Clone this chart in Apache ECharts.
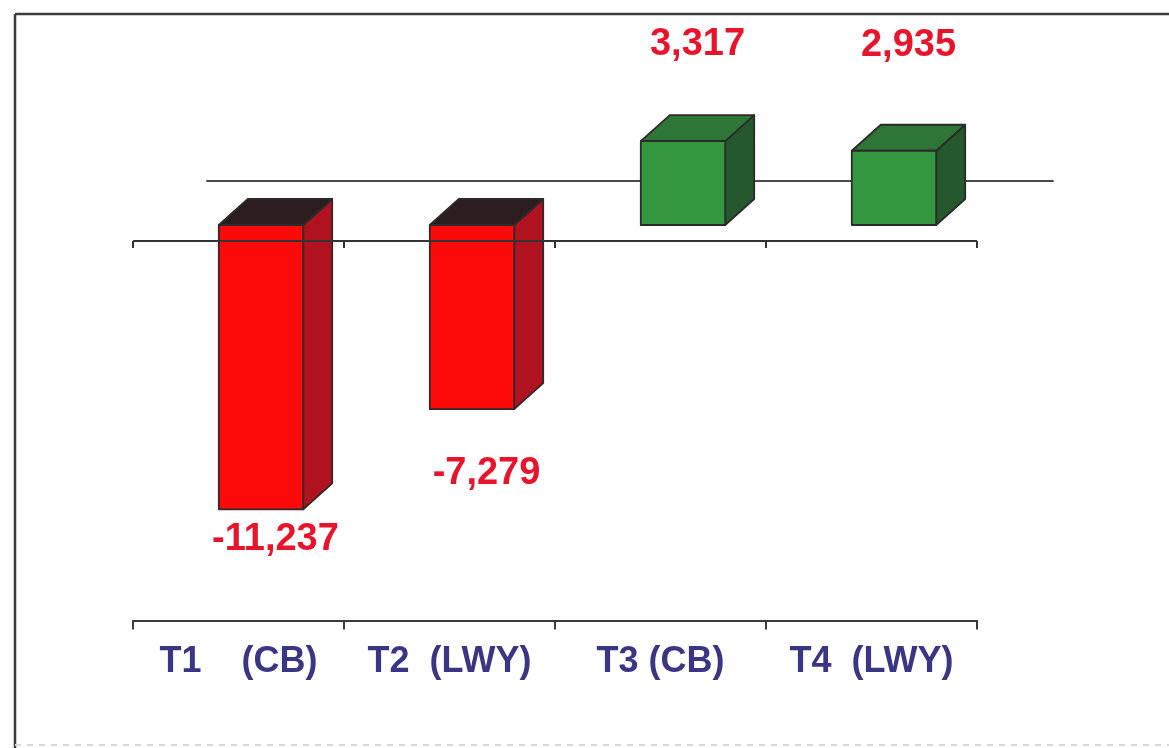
<!DOCTYPE html>
<html>
<head>
<meta charset="utf-8">
<style>
  html, body { margin: 0; padding: 0; background: #ffffff; }
  #chart { width: 1169px; height: 748px; }
</style>
<script src="https://cdn.jsdelivr.net/npm/echarts@6/dist/echarts.min.js"></script>
</head>
<body>
<div id="chart"></div>
<script>
// Net change per period
const categories = ['T1    (CB)', 'T2  (LWY)', 'T3 (CB)', 'T4  (LWY)'];
const values = [-11237, -7279, 3317, 2935];

// Value range shared by every depth plane
const Y_MIN = -15000;
const Y_MAX = 5000;

// Distance (px) of each value label beyond the end of its box
const labelGaps = [30, 64, 71, 79];

// Box depth projection
const DEPTH_X = 29;
const DEPTH_Y = 26;

const FONT = '"Liberation Sans", Arial, Helvetica, sans-serif';

const palette = {
  neg: { front: '#fc0a0a', top: '#2b1d1f', side: '#b0121f' },
  pos: { front: '#33973f', top: '#2d7637', side: '#25592d' }
};

const chart = echarts.init(document.getElementById('chart'), null, { renderer: 'canvas' });

const yAxisBase = { type: 'value', min: Y_MIN, max: Y_MAX, show: false };
const hiddenX = {
  type: 'category', data: categories, boundaryGap: true,
  axisLine: { show: false }, axisTick: { show: false }, axisLabel: { show: false },
  splitLine: { show: false }
};

const frame = [
  { type: 'line', z: 100, shape: { x1: 15, y1: 14, x2: 1169, y2: 14 }, style: { stroke: '#3c3c3c', lineWidth: 2.5 } },
  { type: 'line', z: 100, shape: { x1: 15, y1: 14, x2: 15, y2: 748 }, style: { stroke: '#3c3c3c', lineWidth: 2.5 } },
  { type: 'line', z: 100, shape: { x1: 15, y1: 745, x2: 1169, y2: 745 }, style: { stroke: '#d8d8d8', lineWidth: 2, lineDash: [6, 6] } }
];

const option = {
  animation: false,
  backgroundColor: '#ffffff',
  grid: [
    // back wall plane
    { left: 207, right: 116, top: 54.5, bottom: 187.5 },
    // box plane
    { left: 155.5, right: 169.5, top: 98.5, bottom: 143.5 },
    // front plane (zero line)
    { left: 133, right: 192, top: 114.5, bottom: 127.5 },
    // front plane (floor / category axis)
    { left: 133, right: 192, top: 114.5, bottom: 127.5 }
  ],
  xAxis: [
    Object.assign({}, hiddenX, {
      gridIndex: 0, z: 0,
      axisLine: { show: true, onZero: true, lineStyle: { color: '#4a4a4a', width: 2 } }
    }),
    Object.assign({}, hiddenX, { gridIndex: 1 }),
    Object.assign({}, hiddenX, {
      gridIndex: 2, z: 10,
      axisTick: { show: true, inside: false, length: 7, lineStyle: { color: '#333333', width: 2 } }
    }),
    Object.assign({}, hiddenX, {
      gridIndex: 3, position: 'bottom', z: 10,
      axisLine: { show: true, onZero: false, lineStyle: { color: '#3a3a3a', width: 2 } },
      axisTick: { show: true, inside: false, length: 9, lineStyle: { color: '#3a3a3a', width: 2 } },
      axisLabel: {
        show: true, interval: 0, margin: 24,
        color: '#3b3683', fontFamily: FONT, fontWeight: 'bold', fontSize: 36
      }
    })
  ],
  yAxis: [
    Object.assign({ gridIndex: 0 }, yAxisBase),
    Object.assign({ gridIndex: 1 }, yAxisBase),
    Object.assign({ gridIndex: 2 }, yAxisBase),
    Object.assign({ gridIndex: 3 }, yAxisBase)
  ],
  graphic: frame,
  series: [
    {
      // 3D boxes with value labels
      type: 'custom',
      xAxisIndex: 1,
      yAxisIndex: 1,
      z: 5,
      data: values.map((v, i) => [i, v]),
      renderItem: function (params, api) {
        const i = api.value(0);
        const v = api.value(1);
        const base = api.coord([i, 0]);
        const end = api.coord([i, v]);
        const w = api.size([1, 0])[0] * 0.4;
        const x0 = base[0] - w / 2;
        const x1 = base[0] + w / 2;
        const yTop = Math.min(base[1], end[1]);
        const yBot = Math.max(base[1], end[1]);
        const c = v < 0 ? palette.neg : palette.pos;
        const edge = { stroke: '#2c2a2a', lineWidth: 1.8, lineJoin: 'round' };

        const labelX = base[0] + DEPTH_X / 2;
        const labelY = v < 0 ? yBot + labelGaps[i] : yTop - DEPTH_Y - labelGaps[i];

        return {
          type: 'group',
          children: [
            {
              type: 'polygon',
              shape: { points: [[x1, yTop], [x1 + DEPTH_X, yTop - DEPTH_Y], [x1 + DEPTH_X, yBot - DEPTH_Y], [x1, yBot]] },
              style: Object.assign({ fill: c.side }, edge)
            },
            {
              type: 'polygon',
              shape: { points: [[x0, yTop], [x1, yTop], [x1 + DEPTH_X, yTop - DEPTH_Y], [x0 + DEPTH_X, yTop - DEPTH_Y]] },
              style: Object.assign({ fill: c.top }, edge)
            },
            {
              type: 'rect',
              shape: { x: x0, y: yTop, width: w, height: yBot - yTop },
              style: Object.assign({ fill: c.front }, edge)
            },
            {
              type: 'text',
              style: {
                text: v.toLocaleString('en-US'),
                x: labelX, y: labelY,
                align: 'center', verticalAlign: 'middle',
                fill: '#e8142c',
                font: 'bold 38px ' + FONT
              }
            }
          ]
        };
      }
    }
  ]
};

chart.setOption(option);

// Front zero line, laid over the boxes, placed through the front-plane scale
const left = chart.convertToPixel({ gridIndex: 2 }, [0, 0]);
const right = chart.convertToPixel({ gridIndex: 2 }, [categories.length - 1, 0]);
const halfBand = (right[0] - left[0]) / (categories.length - 1) / 2;
chart.setOption({
  graphic: frame.concat([{
    type: 'line', z: 120, silent: true,
    shape: { x1: left[0] - halfBand, y1: left[1], x2: right[0] + halfBand, y2: right[1] },
    style: { stroke: '#333333', lineWidth: 2 }
  }])
});
</script>
</body>
</html>
